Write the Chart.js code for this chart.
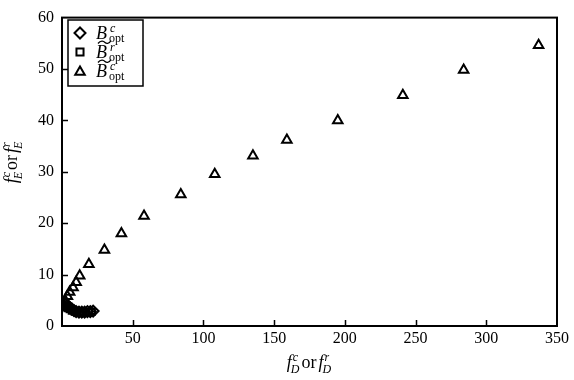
<!DOCTYPE html>
<html><head><meta charset="utf-8">
<script src="https://cdn.jsdelivr.net/npm/chart.js@4/dist/chart.umd.min.js"></script>
<style>html,body{margin:0;padding:0;background:#fff}#wrap{width:574px;height:380px}</style>
</head><body><div id="wrap"><canvas id="c" width="574" height="380"></canvas></div>
<script>
// B^c_opt (diamonds)
const diamondX = [1.5, 2.5, 3.5, 4.5, 5.5, 7, 8.5, 10, 12, 14, 16, 18, 20, 22];
const diamondY = [4.6, 4.3, 4.0, 3.8, 3.6, 3.3, 3.0, 2.8, 2.7, 2.7, 2.7, 2.8, 2.8, 2.9];
// ~B^r_opt (squares)
const squareX = [1, 2, 3, 4, 5.5, 7, 9, 11, 13, 15, 17, 19, 21];
const squareY = [4.0, 3.9, 3.7, 3.5, 3.3, 3.0, 2.8, 2.6, 2.6, 2.6, 2.7, 2.7, 2.8];
// ~B^c_opt (triangles)
const triX = [1.5, 2.5, 3.8, 5.4, 7.8, 10, 12.5, 19, 30, 42, 58, 84, 108, 135, 159, 195, 241, 284, 337];
const triY = [4.0, 4.8, 5.8, 6.6, 7.5, 8.5, 9.8, 12, 14.8, 18, 21.4, 25.6, 29.5, 33.1, 36.2, 40.0, 44.9, 49.8, 54.6];
const xTicks = [0, 50, 100, 150, 200, 250, 300, 350];
const yTicks = [0, 10, 20, 30, 40, 50, 60];

const pts = (xs, ys) => xs.map((x, i) => ({x, y: ys[i]}));
const SERIF = '"Liberation Serif", "DejaVu Serif", serif';

const framePlugin = {
  id: 'frame',
  afterDatasetsDraw(chart) {
    const {ctx, chartArea: a, scales: {x, y}} = chart;
    ctx.save();
    ctx.strokeStyle = '#000';
    ctx.lineWidth = 2;
    ctx.strokeRect(a.left, a.top, a.right - a.left, a.bottom - a.top);
    ctx.lineWidth = 1.5;
    ctx.beginPath();
    xTicks.forEach(v => { const px = Math.round(x.getPixelForValue(v)) + 0.5; if (v > 0 && v < 350) { ctx.moveTo(px, a.bottom); ctx.lineTo(px, a.bottom - 6); } });
    yTicks.forEach(v => { const py = Math.round(y.getPixelForValue(v)) + 0.5; if (v > 0 && v < 60) { ctx.moveTo(a.left, py); ctx.lineTo(a.left + 6, py); } });
    ctx.stroke();

    // axis titles
    ctx.fillStyle = '#000';
    ctx.textBaseline = 'alphabetic';
    function fe(cx, cy, sub) {
      ctx.font = 'italic 18px ' + SERIF;
      const wf = ctx.measureText('f').width;
      ctx.font = 'italic 12px ' + SERIF;
      const ws1 = Math.max(ctx.measureText('c').width, ctx.measureText(sub).width);
      const ws2 = Math.max(ctx.measureText('r').width, ctx.measureText(sub).width);
      ctx.font = '18px ' + SERIF;
      const wor = ctx.measureText('or').width;
      const total = wf + ws1 + 1 + wor + 2 + wf + ws2;
      let xx = cx - total / 2;
      const draw1 = (s) => {
        ctx.font = 'italic 18px ' + SERIF; ctx.fillText('f', xx, cy); xx += wf + 1;
        ctx.font = 'italic 12px ' + SERIF; ctx.fillText(s, xx, cy - 7); ctx.fillText(sub, xx - 2, cy + 5);
        xx += Math.max(ctx.measureText(s).width, ctx.measureText(sub).width);
      };
      draw1('c');
      ctx.font = '18px ' + SERIF; ctx.fillText('or', xx, cy); xx += wor + 2;
      draw1('r');
    }
    fe((a.left + a.right) / 2, 368, 'D');
    ctx.save();
    ctx.translate(13, 162);
    ctx.rotate(-Math.PI / 2);
    fe(0, 4, 'E');
    ctx.restore();

    // legend
    const lx = 68, ly = 20, lw = 75, lh = 66;
    ctx.fillStyle = '#fff';
    ctx.fillRect(lx, ly, lw, lh);
    ctx.strokeStyle = '#000';
    ctx.lineWidth = 1.5;
    ctx.strokeRect(lx, ly, lw, lh);
    const entries = [
      {style: 'rectRot', r: 5.5, sup: 'c', tilde: false},
      {style: 'rect', r: 5, sup: 'r', tilde: true},
      {style: 'triangle', r: 5.5, sup: 'c', tilde: true}
    ];
    entries.forEach((e, i) => {
      const cy = 33 + i * 19;
      ctx.strokeStyle = '#000'; ctx.fillStyle = '#fff'; ctx.lineWidth = 2;
      Chart.helpers.drawPoint(ctx, {pointStyle: e.style, radius: e.r, borderWidth: 2, rotation: 0}, 80, cy + (e.style === 'triangle' ? 1 : 0));
      ctx.fillStyle = '#000';
      ctx.font = 'italic 18px ' + SERIF;
      ctx.fillText('B', 96, cy + 6);
      if (e.tilde) {
        ctx.strokeStyle = '#000';
        ctx.lineWidth = 1.3;
        ctx.beginPath();
        const tx = 98, ty = cy - 9.5;
        ctx.moveTo(tx, ty + 1);
        ctx.bezierCurveTo(tx + 3, ty - 3, tx + 6, ty - 1, tx + 7, ty);
        ctx.bezierCurveTo(tx + 8, ty + 1, tx + 11, ty + 2, tx + 13, ty - 2);
        ctx.stroke();
      }
      ctx.font = 'italic 12px ' + SERIF;
      ctx.fillText(e.sup, 110, cy - 1);
      ctx.font = '12px ' + SERIF;
      ctx.fillText('opt', 109, cy + 9);
    });
    ctx.restore();
  }
};

new Chart(document.getElementById('c'), {
  type: 'scatter',
  data: {
    datasets: [
      {label: 'Bc', data: pts(diamondX, diamondY), pointStyle: 'rectRot', pointRadius: 5.5, borderWidth: 2, borderColor: '#000', backgroundColor: 'rgba(0,0,0,0)'},
      {label: 'Br', data: pts(squareX, squareY), pointStyle: 'rect', pointRadius: 4.5, borderWidth: 2, borderColor: '#000', backgroundColor: 'rgba(0,0,0,0)'},
      {label: 'Bct', data: pts(triX, triY), pointStyle: 'triangle', pointRadius: 5.5, borderWidth: 2, borderColor: '#000', backgroundColor: 'rgba(0,0,0,0)'}
    ]
  },
  options: {
    responsive: false,
    animation: false,
    layout: {padding: {top: 12, right: 17, left: 0, bottom: 0}},
    plugins: {legend: {display: false}, tooltip: {enabled: false}},
    scales: {
      x: {
        type: 'linear', min: 0, max: 350,
        afterBuildTicks: s => { s.ticks = xTicks.map(v => ({value: v})); },
        afterFit: s => { s.height = 54; },
        grid: {display: false, drawTicks: false},
        border: {display: false},
        ticks: {color: '#000', padding: 3, font: {family: SERIF, size: 16}, maxRotation: 0, autoSkip: false,
                callback: v => (v === 0 ? '' : String(v))}
      },
      y: {
        type: 'linear', min: 0, max: 60,
        afterBuildTicks: s => { s.ticks = yTicks.map(v => ({value: v})); },
        afterFit: s => { s.width = 62; },
        grid: {display: false, drawTicks: false},
        border: {display: false},
        ticks: {color: '#000', padding: 8, font: {family: SERIF, size: 16}, autoSkip: false}
      }
    }
  },
  plugins: [framePlugin]
});
</script></body></html>
